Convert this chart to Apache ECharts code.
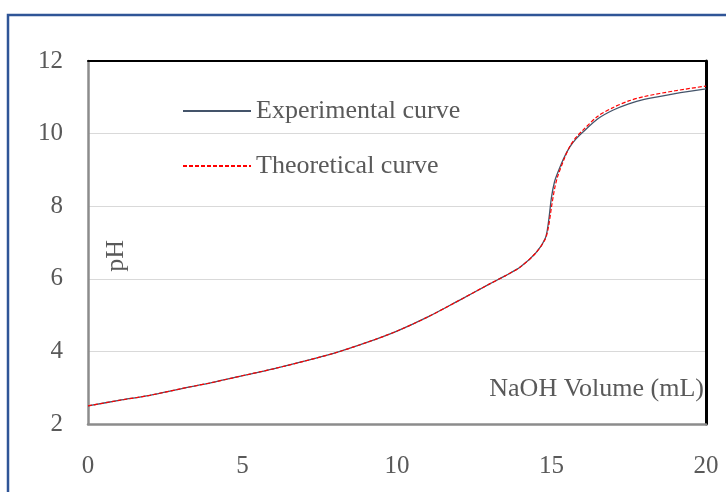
<!DOCTYPE html>
<html>
<head>
<meta charset="utf-8">
<script src="https://cdn.jsdelivr.net/npm/echarts@6/dist/echarts.min.js"></script>
<style>
  html, body { margin: 0; padding: 0; background: #ffffff; }
  #chart { width: 726px; height: 492px; }
</style>
</head>
<body>
<div id="chart"></div>
<script>
// NaOH volume (mL)
const volumes = [0, 1, 2, 3, 4, 5, 6, 7, 8, 9, 10, 11, 12, 13, 13.5, 14, 14.5, 14.8, 14.9, 15, 15.1, 15.2, 15.4, 15.6, 15.8, 16, 16.5, 17, 17.5, 18, 19, 20];
// Experimental pH
const experimentalPH = [2.50, 2.65, 2.79, 2.97, 3.14, 3.33, 3.52, 3.73, 3.96, 4.24, 4.56, 4.95, 5.40, 5.86, 6.08, 6.33, 6.72, 7.12, 7.55, 8.25, 8.68, 8.92, 9.33, 9.64, 9.86, 10.03, 10.41, 10.65, 10.82, 10.94, 11.10, 11.23];
// Theoretical pH
const theoreticalPH = [2.50, 2.65, 2.79, 2.97, 3.14, 3.33, 3.52, 3.73, 3.96, 4.24, 4.56, 4.95, 5.40, 5.86, 6.08, 6.33, 6.72, 7.10, 7.42, 7.98, 8.48, 8.82, 9.28, 9.66, 9.90, 10.08, 10.48, 10.72, 10.90, 11.02, 11.18, 11.31];
const xTicks = [0, 5, 10, 15, 20];
const yTicks = [2, 4, 6, 8, 10, 12];

const serif = '"Liberation Serif", "Times New Roman", serif';
const textColor = '#595959';

const chart = echarts.init(document.getElementById('chart'), null, { renderer: 'canvas' });
chart.setOption({
  backgroundColor: '#ffffff',
  animation: false,
  graphic: [{
    type: 'rect',
    shape: { x: 8, y: 15, width: 900, height: 700 },
    style: { fill: 'none', stroke: '#2F5597', lineWidth: 2.5 },
    silent: true,
    z: 100
  }, {
    type: 'text',
    left: 103,
    top: 240,
    rotation: Math.PI / 2,
    style: { text: 'pH', font: '26px ' + serif, fill: textColor },
    z: 50
  }],
  grid: { left: 88, top: 61, right: 20, bottom: 68, containLabel: false },
  legend: {
    orient: 'vertical',
    left: 182,
    top: 96,
    padding: 0,
    itemWidth: 68,
    itemHeight: 14,
    itemGap: 25,
    itemStyle: { opacity: 0, borderWidth: 0 },
    textStyle: { fontFamily: serif, fontSize: 26, color: textColor, lineHeight: 30, padding: [0, 0, 0, 0] },
    data: ['Experimental curve', 'Theoretical curve']
  },
  xAxis: [{
    type: 'value',
    min: 0, max: 20, interval: 5,
    name: 'NaOH Volume (mL)',
    nameLocation: 'end',
    nameGap: 0,
    nameTextStyle: { fontFamily: serif, fontSize: 26, color: textColor, align: 'right', verticalAlign: 'bottom', padding: [0, 2, 22, 0] },
    axisLine: { show: true, lineStyle: { color: '#8c8c8c', width: 2.5 } },
    axisTick: { show: false },
    splitLine: { show: false },
    axisLabel: { fontFamily: serif, fontSize: 25, color: textColor, margin: 30 }
  }, {
    type: 'value',
    position: 'top',
    min: 0, max: 20, interval: 5,
    axisLine: { show: true, onZero: false, lineStyle: { color: '#000000', width: 2 } },
    axisTick: { show: false },
    axisLabel: { show: false },
    splitLine: { show: false }
  }],
  yAxis: [{
    type: 'value',
    min: 2, max: 12, interval: 2,
    axisLine: { show: true, lineStyle: { color: '#8c8c8c', width: 2.5 } },
    axisTick: { show: false },
    splitLine: { show: true, lineStyle: { color: '#d9d9d9', width: 1 } },
    axisLabel: { fontFamily: serif, fontSize: 25, color: textColor, margin: 25 }
  }, {
    type: 'value',
    position: 'right',
    min: 2, max: 12, interval: 2,
    axisLine: { show: true, onZero: false, lineStyle: { color: '#000000', width: 3 } },
    axisTick: { show: false },
    axisLabel: { show: false },
    splitLine: { show: false }
  }],
  series: [{
    name: 'Experimental curve',
    type: 'line',
    xAxisIndex: 0, yAxisIndex: 0,
    data: volumes.map((v, i) => [v, experimentalPH[i]]),
    symbol: 'none',
    smooth: 0.3,
    lineStyle: { color: '#44546A', width: 1.3 },
    itemStyle: { color: '#44546A' },
    z: 3
  }, {
    name: 'Theoretical curve',
    type: 'line',
    xAxisIndex: 0, yAxisIndex: 0,
    data: volumes.map((v, i) => [v, theoreticalPH[i]]),
    symbol: 'none',
    smooth: 0.3,
    lineStyle: { color: '#FF0000', width: 1.2, type: [4, 2] },
    itemStyle: { color: '#FF0000' },
    z: 4
  }]
});
</script>
</body>
</html>
